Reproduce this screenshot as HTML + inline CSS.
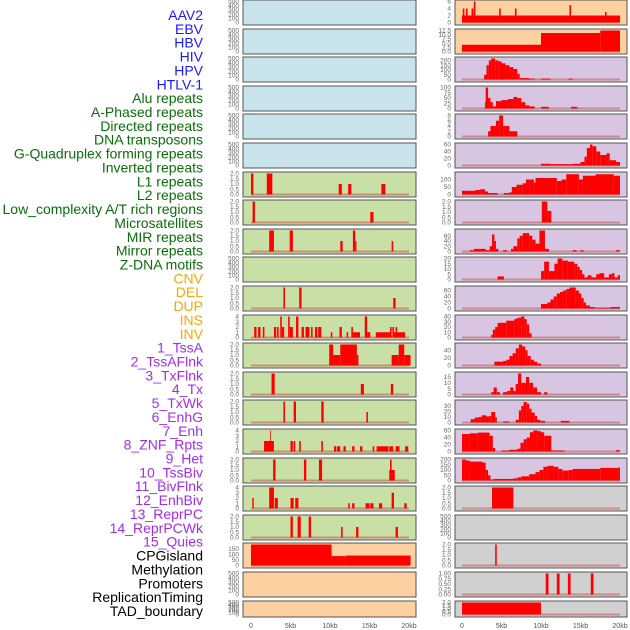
<!DOCTYPE html>
<html><head><meta charset="utf-8"><style>
body{margin:0;background:#fff}
svg{display:block;font-family:"Liberation Sans",sans-serif}
</style></head><body>
<svg id="chart" width="630" height="630" xmlns="http://www.w3.org/2000/svg"></svg>
<script>
const labels=["AAV2","EBV","HBV","HIV","HPV","HTLV-1","Alu repeats","A-Phased repeats","Directed repeats","DNA transposons","G-Quadruplex forming repeats","Inverted repeats","L1 repeats","L2 repeats","Low_complexity A/T rich regions","Microsatellites","MIR repeats","Mirror repeats","Z-DNA motifs","CNV","DEL","DUP","INS","INV","1_TssA","2_TssAFlnk","3_TxFlnk","4_Tx","5_TxWk","6_EnhG","7_Enh","8_ZNF_Rpts","9_Het","10_TssBiv","11_BivFlnk","12_EnhBiv","13_ReprPC","14_ReprPCWk","15_Quies","CPGisland","Methylation","Promoters","ReplicationTiming","TAD_boundary"];
const labelGroups=[6,13,5,15,5];
const xTickLabels=["0","5kb","10kb","15kb","20kb"];
const xTickValues=[0,5,10,15,20];
const E=[0,100,200,300,400,500];
const leftMax=[500,500,500,500,500,500,2,2,2,500,2,4,2,2,2,4,2,4,2,190,500,500];
const leftTicks=[E,E,E,E,E,E,[0,0.5,1,1.5,2],[0,0.5,1,1.5,2],[0,0.5,1,1.5,2],E,[0,0.5,1,1.5,2],[0,1,2,3,4],[0,0.5,1,1.5,2],[0,0.5,1,1.5,2],[0,0.5,1,1.5,2],[0,1,2,3,4],[0,0.5,1,1.5,2],[0,1,2,3,4],[0,0.5,1,1.5,2],[0,50,100,150],E,E];
const leftBars=[[],[],[],[],[],[],
[[0,0.3,2],[2,2.7,2],[11.1,11.5,1],[12.3,12.7,1],[16.5,17,1]],
[[0.2,0.5,2],[15.1,15.5,1]],
[[2.3,2.9,2],[4.9,5.3,2],[11.3,11.6,1],[12.9,13.2,2],[13.2,13.35,1],[17.8,18,1]],
[],
[[4.1,4.3,2],[6.1,6.4,2],[18,18.3,1]],
[[0.4,0.7,2],[0.9,1.2,2],[1.5,1.7,2],[2.9,3.2,2],[3.3,3.5,2],[3.7,3.9,4],[3.9,4.2,2],[4.7,4.9,4],[4.9,5.3,2],[5.7,6,4],[6.4,6.7,2],[6.9,7.4,2],[7.6,7.8,2],[8.1,8.4,2],[8.5,8.9,2],[10.1,10.3,1],[11.2,11.5,2],[12.1,12.3,1],[12.7,12.9,2],[12.9,13.8,1],[14.4,14.7,4],[14.7,15.1,1],[15.8,17.8,1],[17.6,17.8,2],[17.9,18.1,2],[18,19.5,1],[18.3,18.5,2]],
[[9.9,10.4,2],[10.4,11.3,1],[11.3,13.4,2],[13.4,13.6,1],[17.8,18.7,1],[18.7,19.4,2],[19.4,20.2,1]],
[[2.6,3,2],[13.9,14.3,1],[17.7,18,1]],
[[4.1,4.3,2],[5.4,5.7,2],[8.9,9.2,2],[14.6,14.8,1]],
[[1.65,2.9,2],[2.4,2.5,4],[5,5.3,2],[5.4,5.6,2],[6.1,6.3,2],[8.9,9.1,2],[10.5,10.8,1],[10.9,11.3,1],[11.7,12,1],[12.8,13.1,1],[13.8,14.1,1],[15.4,15.6,1],[15.9,17.4,1],[17.5,18,1],[18.3,18.8,1],[19.5,19.9,1]],
[[2.8,3.1,2],[6.7,7,2],[8.6,9,2],[17.5,18.2,1],[17.6,17.8,2]],
[[0.17,0.35,2],[2.3,2.9,4],[3,3.4,2],[5,5.4,2],[5.6,6,2],[12.3,12.5,1],[12.8,13.1,1],[14.5,15,1],[15.1,15.5,1],[16.2,16.6,1],[17.8,18.1,3],[19.4,19.7,1]],
[[5,5.3,2],[5.9,6.3,2],[7.3,7.6,2],[11.4,11.6,1],[13.3,13.6,1],[18.3,18.6,1]],
[[0,10.2,190],[10.2,12,85],[12,20.2,90]],
[],[]];
const rightMax=[6,12.5,220,100,8,60,140,2,80,20,70,40,55,18,38,60,200,2,500,2,1,2];
const rightTicks=[[0,2,4,6],[0,2.5,5,7.5,10,12.5],[0,50,100,150,200],[0,25,50,75,100],[0,2,4,6,8],[0,20,40,60],[0,50,100],[0,0.5,1,1.5,2],[0,20,40,60],[0,5,10,15,20],[0,20,40,60],[0,10,20,30,40],[0,20,40],[0,5,10,15],[0,10,20,30],[0,20,40,60],[0,50,100,150,200],[0,0.5,1,1.5,2],E,[0,0.5,1,1.5,2],[0,0.25,0.5,0.75,1],[0,0.5,1,1.5,2]];
function steps(pts,end){const r=[];for(let i=0;i<pts.length;i++){r.push([pts[i][0],i+1<pts.length?pts[i+1][0]:end,pts[i][1]]);}return r;}
const rightBars=[
[[0,20,2],[0.1,0.3,4],[0.5,0.7,4],[1.2,1.45,4],[1.5,1.7,6],[4.7,4.9,4],[6.7,6.9,4],[13.6,13.8,5],[18.1,18.3,3]],
[[0,10,4],[10,17.5,11],[17.5,20,12.5]],
steps([[2.8,50],[3.1,150],[3.4,200],[3.7,220],[4.2,200],[4.6,190],[5,170],[5.5,150],[6,130],[6.5,110],[7,60],[7.3,15],[8.5,10],[9.2,0],[10,10],[11.2,0],[13.5,10],[14,0]],14),
steps([[2.9,30],[3.0,100],[3.3,50],[3.6,30],[3.9,10],[4.3,35],[5,40],[5.8,45],[6.5,55],[7,50],[7.5,30],[8,15],[8.5,10],[9.2,0],[10,8],[11,0],[13.8,8],[14.6,0]],14.6),
steps([[3.3,2],[3.6,4],[4.3,6],[4.7,8],[5.2,4],[6,2],[7,0]],7),
steps([[10,5],[11.2,4],[14,5],[15,10],[15.5,25],[15.8,50],[16.2,60],[16.5,55],[17,40],[17.5,30],[18.3,35],[18.7,15],[19.5,10]],20),
steps([[0,25],[1.7,30],[2.3,35],[2.9,20],[3.3,10],[3.6,10],[4.5,0],[5.3,10],[6,15],[6.3,50],[6.9,65],[7.7,75],[8.1,100],[8.5,100],[9.1,80],[9.3,110],[12,90],[12.6,100],[13.2,135],[14.8,100],[15.3,125],[16.9,135],[19.2,125]],20),
[[10.1,10.8,2],[10.8,11.3,1.1]],
steps([[1,5],[1.5,10],[3,5],[3.5,20],[3.8,65],[4.1,40],[4.3,10],[4.6,0],[5.2,5],[5.7,0],[6.2,10],[6.5,20],[7,50],[7.3,60],[7.7,70],[8.5,60],[8.9,45],[9.3,30],[9.8,80],[10.5,10],[11,0],[14,5],[14.5,0],[15,5],[15.4,0],[19.5,5]],20),
steps([[4.5,3],[5.3,0],[10,8],[10.4,17],[11,8],[11.7,15],[12.1,20],[12.7,18],[13.4,17],[14.2,15],[14.6,12],[14.9,9],[15.2,5],[15.5,2],[15.9,4],[16.4,2],[17,5],[17.4,6],[18,2],[18.6,5],[19,6],[19.3,2],[19.7,4]],20),
steps([[10,15],[10.8,20],[11.2,30],[11.6,40],[12,50],[12.4,55],[12.8,60],[13.2,65],[13.6,70],[14.4,60],[14.8,50],[15.1,35],[15.4,20],[15.7,10],[16.2,5],[16.8,3],[18.8,5]],20),
steps([[3.7,5],[3.9,15],[4.2,20],[4.5,28],[5.6,32],[6.6,35],[6.9,37],[7.2,38],[7.5,40],[7.9,35],[8.2,25],[8.5,8],[8.8,0]],8.8),
steps([[4.1,10],[5.2,12],[5.6,15],[6,25],[6.4,32],[6.8,45],[7.2,55],[7.6,50],[8,40],[8.3,25],[8.7,15],[9.1,10],[9.5,5],[10,0]],10),
steps([[3.7,2],[4,6],[4.4,2],[4.8,0],[5.2,2],[5.7,3],[6.1,6],[6.5,3],[6.8,9],[7.1,18],[7.5,10],[7.9,10],[8.1,15],[8.5,10],[9,6],[9.5,2],[10,0],[10.4,2],[10.8,0]],10.8),
steps([[1.1,6],[1.6,9],[2.1,10],[2.5,13],[3.1,11],[3.5,12],[3.7,19],[4.2,10],[4.4,0],[5.2,2],[6,0],[6.8,5],[7.2,22],[7.5,30],[7.8,37],[8.2,34],[8.5,25],[8.8,18],[9.2,12],[9.5,5],[9.9,3],[10.5,0],[12.5,3],[13.6,0]],13.6),
steps([[0,50],[1,52],[2,54],[3.5,45],[3.9,10],[4.2,0],[5,3],[6,5],[7,8],[7.4,25],[7.8,35],[8.2,40],[8.6,55],[9,60],[9.6,58],[10,55],[10.4,45],[11.3,3],[13,0],[19.5,4]],20),
steps([[0,200],[0.5,190],[1,180],[2.6,170],[3,100],[3.3,50],[3.6,10],[4,15],[6.5,20],[7,30],[7.5,40],[8.5,60],[9.3,80],[9.8,100],[10.3,130],[10.8,140],[11.6,130],[12.2,110],[12.7,95],[13.5,100],[14,110],[17.5,120],[19.8,125]],20),
[[3.8,6.5,2]],
[],
[[4.2,4.4,2]],
[[10.6,10.95,1],[12.0,12.35,1],[13.4,13.75,1],[16.3,16.65,1]],
[[0,10,2]]];
const leftBg=["#c9e3eb","#c9e3eb","#c9e3eb","#c9e3eb","#c9e3eb","#c9e3eb","#c8e0a6","#c8e0a6","#c8e0a6","#c8e0a6","#c8e0a6","#c8e0a6","#c8e0a6","#c8e0a6","#c8e0a6","#c8e0a6","#c8e0a6","#c8e0a6","#c8e0a6","#fdd0a2","#fdd0a2","#fdd0a2"];
const rightBg=["#fdd0a2","#fdd0a2","#d7c5e2","#d7c5e2","#d7c5e2","#d7c5e2","#d7c5e2","#d7c5e2","#d7c5e2","#d7c5e2","#d7c5e2","#d7c5e2","#d7c5e2","#d7c5e2","#d7c5e2","#d7c5e2","#d7c5e2","#d0d0d0","#d0d0d0","#d0d0d0","#d0d0d0","#d0d0d0"];
const NS="http://www.w3.org/2000/svg";
const svg=document.getElementById('chart');
function mk(tag,attrs,parent){const e=document.createElementNS(NS,tag);for(const k in attrs)e.setAttribute(k,attrs[k]);(parent||svg).appendChild(e);return e;}
const gColors=["#1a1aff","#0a6e0a","#ffa500","#a32cf0","#000000"];
let li=0;
labelGroups.forEach((n,g)=>{for(let j=0;j<n;j++){const t=mk('text',{x:203,y:20+li*13.86,'text-anchor':'end','font-size':'14',fill:gColors[g]});


t.textContent=labels[li];li++;}});
const cols=[{l:243,r:416,x0:251,x1:409,bg:leftBg,max:leftMax,ticks:leftTicks,bars:leftBars,name:'left'},
{l:455,r:627,x0:462,x1:620,bg:rightBg,max:rightMax,ticks:rightTicks,bars:rightBars,name:'right'}];
function fmt(v,ticks){const dec=ticks.some(t=>Math.abs(t%1-0.25)<1e-9||Math.abs(t%1-0.75)<1e-9)?2:(ticks.some(t=>t%1!==0)?1:0);return v.toFixed(dec);}
cols.forEach(c=>{
  const xs=kb=>c.x0+(c.x1-c.x0)*kb/20;
  for(let i=0;i<22;i++){
    const top=Math.round(i*28.6), h=i===21?16:25;
    const g=mk('g',{});
    
    
    mk('rect',{x:c.l,y:top,width:c.r-c.l,height:h,fill:c.bg[i],stroke:'#555','stroke-width':1},g);
    const ymin=top+h-2.5, ymaxp=top+1.5, m=c.max[i];
    const ys=v=>ymin-(ymin-ymaxp)*v/m;
    c.ticks[i].forEach(tv=>{const t=mk('text',{x:c.l-4,y:ys(tv)+2.2,'text-anchor':'end','font-size':'6.5',fill:'#666'},g);
      
      
      t.textContent=fmt(tv,c.ticks[i]);});
    if(m!==500){mk('line',{x1:xs(0),x2:xs(20),y1:ymin,y2:ymin,stroke:'rgba(200,80,80,0.55)','stroke-width':2},g);}
    c.bars[i].forEach(b=>{const r=mk('rect',{x:xs(b[0]),y:ys(b[2]),width:Math.max(0.8,xs(b[1])-xs(b[0])),height:Math.max(0,ymin-ys(b[2])),fill:'#ff0000'},g);
      
      });
  }
  xTickValues.forEach((v,k)=>{const t=mk('text',{x:xs(v),y:628,'text-anchor':'middle','font-size':'7',fill:'#555'});
    
    
    t.textContent=xTickLabels[k];});
});
</script>
</body></html>
